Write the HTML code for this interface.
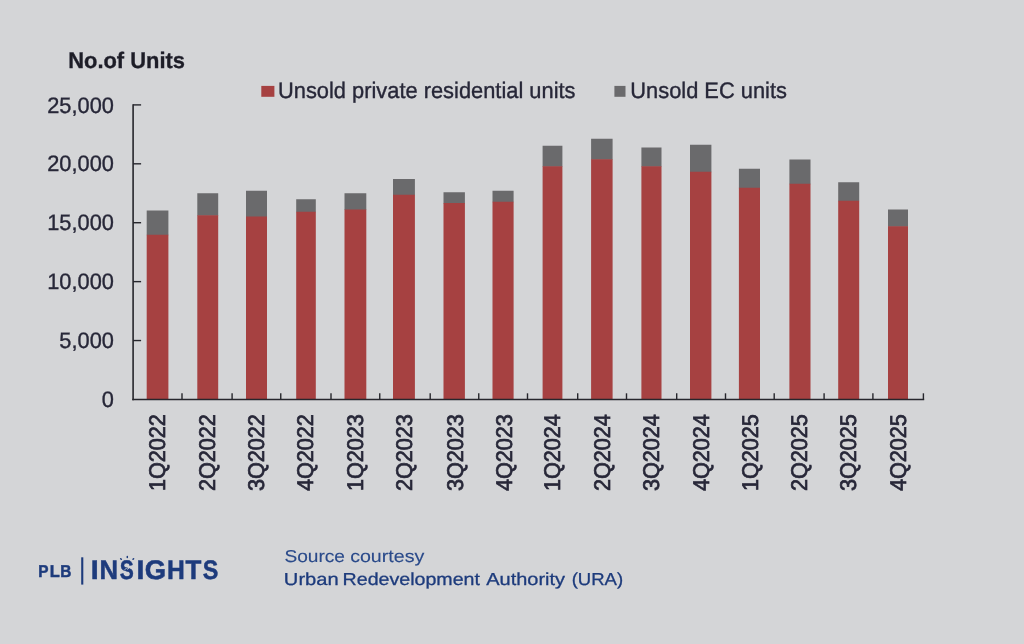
<!DOCTYPE html>
<html><head><meta charset="utf-8">
<style>
html,body{margin:0;padding:0;}
body{width:1024px;height:644px;background:#d4d5d7;overflow:hidden;position:relative;font-family:"Liberation Sans",sans-serif;}
svg{position:absolute;left:0;top:0;filter:blur(0.5px);}
text{font-family:"Liberation Sans",sans-serif;text-rendering:geometricPrecision;font-kerning:none;}
.ch text{stroke:#272738;stroke-width:0.35px;}
.lg1 text{stroke:#1d3b7c;stroke-width:0.5px;}
.s1 text{stroke:#2a4a8a;stroke-width:0.12px;}
.s2 text{stroke:#1d3b7c;stroke-width:0.3px;}
.yl{font-size:21.8px;fill:#272738;text-anchor:end;}
.ch .xl text{font-size:21.65px;fill:#272738;stroke-width:0.7px;}
.lg{font-size:21.85px;fill:#272738;}
</style></head><body>
<svg class="ch" width="1024" height="644" viewBox="0 0 1024 644">
<text transform="translate(68.2 67.75) scale(1 1.025)" font-size="21.9" font-weight="bold" fill="#1d1d26">No.of Units</text>
<rect x="261.3" y="85.9" width="13.1" height="10.9" fill="#a64141"/>
<text class="lg" transform="translate(278.0 98.45) scale(1 1.025)">Unsold private residential units</text>
<rect x="614.4" y="85.9" width="11.1" height="10.9" fill="#6a6a6c"/>
<text class="lg" transform="translate(630.3 98.45) scale(1 1.025)">Unsold EC units</text>
<g class="yl">
<text transform="translate(113.9 112.55) scale(1 1.025)">25,000</text>
<text transform="translate(113.9 171.46) scale(1 1.025)">20,000</text>
<text transform="translate(113.9 230.37) scale(1 1.025)">15,000</text>
<text transform="translate(113.9 289.28) scale(1 1.025)">10,000</text>
<text transform="translate(113.9 348.19) scale(1 1.025)">5,000</text>
<text transform="translate(113.9 407.10) scale(1 1.025)">0</text>
</g>
<g>
<rect x="146.70" y="210.50" width="21.70" height="24.75" fill="#6a6a6c"/>
<rect x="146.70" y="234.75" width="21.70" height="164.70" fill="#a64141"/>
<rect x="197.30" y="193.25" width="20.90" height="22.50" fill="#6a6a6c"/>
<rect x="197.30" y="215.25" width="20.90" height="184.20" fill="#a64141"/>
<rect x="246.00" y="190.75" width="21.00" height="26.25" fill="#6a6a6c"/>
<rect x="246.00" y="216.50" width="21.00" height="182.95" fill="#a64141"/>
<rect x="296.20" y="199.25" width="19.60" height="13.00" fill="#6a6a6c"/>
<rect x="296.20" y="211.75" width="19.60" height="187.70" fill="#a64141"/>
<rect x="344.50" y="193.25" width="21.80" height="16.75" fill="#6a6a6c"/>
<rect x="344.50" y="209.50" width="21.80" height="189.95" fill="#a64141"/>
<rect x="393.00" y="179.00" width="21.90" height="16.25" fill="#6a6a6c"/>
<rect x="393.00" y="194.75" width="21.90" height="204.70" fill="#a64141"/>
<rect x="443.50" y="192.25" width="21.40" height="11.25" fill="#6a6a6c"/>
<rect x="443.50" y="203.00" width="21.40" height="196.45" fill="#a64141"/>
<rect x="492.50" y="190.75" width="21.10" height="11.50" fill="#6a6a6c"/>
<rect x="492.50" y="201.75" width="21.10" height="197.70" fill="#a64141"/>
<rect x="542.60" y="145.75" width="19.80" height="21.00" fill="#6a6a6c"/>
<rect x="542.60" y="166.25" width="19.80" height="233.20" fill="#a64141"/>
<rect x="591.10" y="138.75" width="21.50" height="21.00" fill="#6a6a6c"/>
<rect x="591.10" y="159.25" width="21.50" height="240.20" fill="#a64141"/>
<rect x="641.40" y="147.50" width="20.10" height="19.25" fill="#6a6a6c"/>
<rect x="641.40" y="166.25" width="20.10" height="233.20" fill="#a64141"/>
<rect x="690.00" y="144.75" width="21.40" height="27.50" fill="#6a6a6c"/>
<rect x="690.00" y="171.75" width="21.40" height="227.70" fill="#a64141"/>
<rect x="738.90" y="168.75" width="21.10" height="19.50" fill="#6a6a6c"/>
<rect x="738.90" y="187.75" width="21.10" height="211.70" fill="#a64141"/>
<rect x="789.40" y="159.50" width="21.10" height="24.75" fill="#6a6a6c"/>
<rect x="789.40" y="183.75" width="21.10" height="215.70" fill="#a64141"/>
<rect x="838.20" y="182.25" width="21.00" height="19.00" fill="#6a6a6c"/>
<rect x="838.20" y="200.75" width="21.00" height="198.70" fill="#a64141"/>
<rect x="888.00" y="209.50" width="20.00" height="17.25" fill="#6a6a6c"/>
<rect x="888.00" y="226.25" width="20.00" height="173.20" fill="#a64141"/>
</g>
<g stroke="#26262c" stroke-width="1.6" fill="none">
<path d="M133.1 104.15V400.3"/>
<path d="M132.3 399.45H924.2"/>
</g>
<g stroke="#26262c" stroke-width="1.4" fill="none">
<path d="M133.1 104.90H141.1"/>
<path d="M133.1 163.81H141.1"/>
<path d="M133.1 222.72H141.1"/>
<path d="M133.1 281.63H141.1"/>
<path d="M133.1 340.54H141.1"/>
<path d="M182.00 399.45V393.3"/>
<path d="M232.10 399.45V393.3"/>
<path d="M280.75 399.45V393.3"/>
<path d="M331.00 399.45V393.3"/>
<path d="M379.75 399.45V393.3"/>
<path d="M430.20 399.45V393.3"/>
<path d="M478.75 399.45V393.3"/>
<path d="M527.50 399.45V393.3"/>
<path d="M577.70 399.45V393.3"/>
<path d="M626.50 399.45V393.3"/>
<path d="M676.70 399.45V393.3"/>
<path d="M725.50 399.45V393.3"/>
<path d="M774.20 399.45V393.3"/>
<path d="M824.10 399.45V393.3"/>
<path d="M872.90 399.45V393.3"/>
<path d="M923.40 399.45V393.3"/>
</g>
<g class="xl">
<text transform="translate(164.80 491.10) rotate(-90) scale(1 1.05)">1Q2022</text>
<text transform="translate(215.30 491.10) rotate(-90) scale(1 1.05)">2Q2022</text>
<text transform="translate(264.05 491.10) rotate(-90) scale(1 1.05)">3Q2022</text>
<text transform="translate(313.25 491.10) rotate(-90) scale(1 1.05)">4Q2022</text>
<text transform="translate(362.65 491.10) rotate(-90) scale(1 1.05)">1Q2023</text>
<text transform="translate(411.80 491.10) rotate(-90) scale(1 1.05)">2Q2023</text>
<text transform="translate(462.65 491.10) rotate(-90) scale(1 1.05)">3Q2023</text>
<text transform="translate(511.50 491.10) rotate(-90) scale(1 1.05)">4Q2023</text>
<text transform="translate(559.75 491.10) rotate(-90) scale(1 1.05)">1Q2024</text>
<text transform="translate(609.80 491.10) rotate(-90) scale(1 1.05)">2Q2024</text>
<text transform="translate(659.40 491.10) rotate(-90) scale(1 1.05)">3Q2024</text>
<text transform="translate(708.95 491.10) rotate(-90) scale(1 1.05)">4Q2024</text>
<text transform="translate(757.80 491.10) rotate(-90) scale(1 1.05)">1Q2025</text>
<text transform="translate(807.20 491.10) rotate(-90) scale(1 1.05)">2Q2025</text>
<text transform="translate(856.25 491.10) rotate(-90) scale(1 1.05)">3Q2025</text>
<text transform="translate(906.25 491.10) rotate(-90) scale(1 1.05)">4Q2025</text>
</g>
</svg>
<svg width="1024" height="644" viewBox="0 0 1024 644" style="filter:blur(0.3px)">
<g class="lg1" fill="#1d3b7c" font-weight="bold">
<text transform="translate(38.17 577.20) scale(0.894 1)" font-size="17.2">P</text>
<text transform="translate(49.71 577.20) scale(0.952 1)" font-size="17.2">L</text>
<text transform="translate(60.37 577.20) scale(0.896 1)" font-size="17.2">B</text>
<text transform="translate(90.70 579.00) scale(1.062 1)" font-size="26.8">I</text>
<text transform="translate(99.38 579.00) scale(0.958 1)" font-size="26.8">N</text>
<text transform="translate(119.79 579.00) scale(0.785 1)" font-size="26.8">S</text>
<text transform="translate(136.40 579.00) scale(1.062 1)" font-size="26.8">I</text>
<text transform="translate(144.68 579.00) scale(1.023 1)" font-size="26.8">G</text>
<text transform="translate(167.05 579.00) scale(0.920 1)" font-size="26.8">H</text>
<text transform="translate(185.61 579.00) scale(0.969 1)" font-size="26.8">T</text>
<text transform="translate(202.63 579.00) scale(0.872 1)" font-size="26.8">S</text>
</g>
<rect x="81.2" y="557.3" width="2.1" height="27.3" fill="#1d3b7c"/>
<g fill="none" stroke="#1d3b7c" stroke-linecap="butt">
<path stroke="#d4d5d7" stroke-width="0.8" d="M124.4 570.2L126.3 568.1L127.8 569.3L129.7 567.2L130.9 568.1L133.4 565.9"/>
<path stroke-width="1.5" stroke-linecap="round" d="M121.3 559.3L120.7 558.7M127.3 557.5V556.6M133.0 559.3L133.6 558.7"/>
</g>
</svg>
<svg width="1024" height="644" viewBox="0 0 1024 644" style="filter:blur(0.3px)">
<g class="s1" fill="#2a4a8a">
<text transform="translate(284.43 562.30) scale(1.106 1)" font-size="17.3" >Source</text>
<text transform="translate(350.17 562.30) scale(1.134 1)" font-size="17.3" >courtesy</text>
</g>
<g class="s2" fill="#1d3b7c">
<text transform="translate(283.85 584.90) scale(1.164 1)" font-size="17.3" >Urban</text>
<text transform="translate(342.59 584.90) scale(1.135 1)" font-size="17.3" >Redevelopment</text>
<text transform="translate(486.26 584.90) scale(1.154 1)" font-size="17.3" >Authority</text>
<text transform="translate(571.65 584.90) scale(1.072 1)" font-size="17.3" >(URA)</text>
</g>
</svg>
</body></html>
